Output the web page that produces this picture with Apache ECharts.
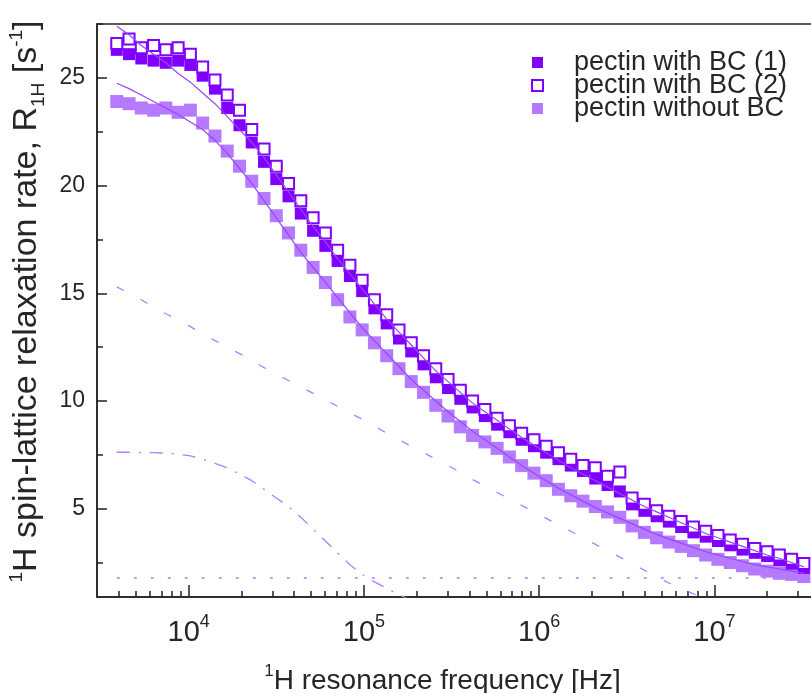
<!DOCTYPE html>
<html><head><meta charset="utf-8">
<script src="https://cdn.jsdelivr.net/npm/echarts@6/dist/echarts.min.js"></script>
<style>html,body{margin:0;padding:0;background:#fff}#c{width:811px;height:693px}</style>
</head><body><div id="c"></div>
<script>
// Frequencies [Hz]
const freq = [3.89e3, 4.57e3, 5.37e3, 6.31e3, 7.41e3, 8.71e3, 1.023e4, 1.202e4, 1.413e4, 1.660e4,
  1.950e4, 2.291e4, 2.692e4, 3.162e4, 3.715e4, 4.365e4, 5.129e4, 6.026e4, 7.079e4, 8.318e4,
  9.772e4, 1.148e5, 1.349e5, 1.585e5, 1.862e5, 2.188e5, 2.570e5, 3.020e5, 3.548e5, 4.169e5,
  4.898e5, 5.754e5, 6.761e5, 7.943e5, 9.333e5, 1.096e6, 1.288e6, 1.514e6, 1.778e6, 2.089e6,
  2.455e6, 2.884e6, 3.388e6, 3.981e6, 4.677e6, 5.495e6, 6.457e6, 7.586e6, 8.913e6, 1.047e7,
  1.230e7, 1.445e7, 1.698e7, 1.995e7, 2.344e7, 2.754e7, 3.236e7];

const withBC1 = [26.3, 26.1, 25.9, 25.8, 25.7, 25.8, 25.6, 25.1, 24.5, 23.6,
  22.8, 22.0, 21.1, 20.3, 19.5, 18.7, 17.9, 17.2, 16.5, 15.8,
  15.1, 14.3, 13.6, 12.9, 12.3, 11.7, 11.1, 10.6, 10.1, 9.7,
  9.3, 8.9, 8.55, 8.2, 7.9, 7.6, 7.3, 7.0, 6.75, 6.4,
  6.1, 5.8, 5.2, 4.9, 4.65, 4.4, 4.15, 3.9, 3.7, 3.5,
  3.3, 3.1, 2.95, 2.8, 2.6, 2.45, 2.25];

const withBC2 = [26.6, 26.8, 26.4, 26.5, 26.3, 26.4, 26.1, 25.5, 24.9, 24.2,
  23.5, 22.6, 21.7, 20.9, 20.1, 19.3, 18.5, 17.8, 17.0, 16.3,
  15.6, 14.7, 14.0, 13.3, 12.7, 12.1, 11.5, 11.0, 10.5, 10.0,
  9.6, 9.2, 8.85, 8.5, 8.2, 7.9, 7.6, 7.3, 7.0, 6.9,
  6.5, 6.7, 5.5, 5.2, 4.9, 4.65, 4.4, 4.15, 3.95, 3.75,
  3.55, 3.35, 3.15, 3.0, 2.85, 2.65, 2.45];

const withoutBC = [23.9, 23.8, 23.6, 23.5, 23.6, 23.4, 23.5, 22.9, 22.3, 21.6,
  20.9, 20.2, 19.4, 18.6, 17.8, 17.0, 16.2, 15.5, 14.7, 13.9,
  13.3, 12.7, 12.1, 11.5, 10.9, 10.4, 9.8, 9.3, 8.8, 8.4,
  8.1, 7.8, 7.4, 7.0, 6.65, 6.3, 5.9, 5.6, 5.35, 5.1,
  4.85, 4.6, 4.2, 3.9, 3.65, 3.45, 3.25, 3.05, 2.85, 2.65,
  2.5, 2.35, 2.2, 2.1, 2.0, 1.95, 1.85];

// Fit curves (same frequency grid, from the start)
const fitBC = [27.4, 27.0, 26.5, 26.1, 25.7, 25.2, 24.8, 24.3, 23.8, 23.2,
  22.6, 22.0, 21.3, 20.5, 19.7, 18.9, 18.1, 17.4, 16.6, 15.9,
  15.2, 14.5, 13.8, 13.2, 12.6, 12.0, 11.4, 10.9, 10.4, 9.9,
  9.5, 9.1, 8.7, 8.3, 7.95, 7.6, 7.25, 6.9, 6.6, 6.3,
  6.0, 5.7, 5.4, 5.1, 4.85, 4.6, 4.35, 4.1, 3.85, 3.65,
  3.45, 3.25, 3.05, 2.85, 2.7, 2.5, 2.3];

const fitNoBC = [24.75, 24.5, 24.2, 23.9, 23.6, 23.3, 22.95, 22.6, 22.1, 21.5,
  20.8, 20.1, 19.3, 18.5, 17.7, 16.9, 16.2, 15.5, 14.8, 14.1,
  13.4, 12.8, 12.2, 11.6, 11.0, 10.5, 10.0, 9.5, 9.05, 8.6,
  8.2, 7.8, 7.4, 7.0, 6.65, 6.3, 5.95, 5.65, 5.35, 5.05,
  4.8, 4.55, 4.3, 4.05, 3.8, 3.6, 3.4, 3.2, 3.0, 2.85,
  2.7, 2.55, 2.4, 2.3, 2.2, 2.1, 2.0];

const fitDashed = [15.3, 15.0, 14.7, 14.35, 14.05, 13.75, 13.45, 13.1, 12.8, 12.5,
  12.2, 11.9, 11.55, 11.25, 10.95, 10.65, 10.35, 10.05, 9.75, 9.45,
  9.15, 8.85, 8.5, 8.2, 7.9, 7.6, 7.3, 7.0, 6.7, 6.35,
  6.05, 5.75, 5.45, 5.15, 4.85, 4.55, 4.25, 3.95, 3.65, 3.35,
  3.05, 2.75, 2.45, 2.15, 1.85, 1.55, 1.3, 1.05, 0.8];

const fitDashDot = [7.62, 7.62, 7.6, 7.6, 7.58, 7.52, 7.45, 7.3, 7.1, 6.9,
  6.6, 6.3, 5.9, 5.5, 5.1, 4.6, 4.05, 3.5, 2.95, 2.4,
  1.95, 1.6, 1.3, 1.0, 0.75];

const fitConstFreq = [3.89e3, 3.236e7];
const fitConst = [1.78, 1.78];

// Axis ticks
const xMajor = [1e4, 1e5, 1e6, 1e7];
const xMinor = [4e3, 5e3, 6e3, 7e3, 8e3, 9e3,
  2e4, 3e4, 4e4, 5e4, 6e4, 7e4, 8e4, 9e4,
  2e5, 3e5, 4e5, 5e5, 6e5, 7e5, 8e5, 9e5,
  2e6, 3e6, 4e6, 5e6, 6e6, 7e6, 8e6, 9e6,
  2e7, 3e7];
const yMajor = [5, 10, 15, 20, 25];
const yMinor = [2.5, 7.5, 12.5, 17.5, 22.5, 27.5];

const names = ['pectin with BC (1)', 'pectin with BC (2)', 'pectin without BC'];

const FONT = '"Liberation Sans", Arial, sans-serif';
const TXT = '#262626';
const AX = '#222';

function pairs(xs, ys) { return ys.map((v, i) => [xs[i], v]); }

const chart = echarts.init(document.getElementById('c'), null, {renderer: 'canvas'});
const fitLineColor = '#9646ff';
const fitLight = '#b27dff';

chart.setOption({
  animation: false,
  backgroundColor: '#fff',
  textStyle: {fontFamily: FONT},
  grid: {left: 97, top: 24, width: 723, height: 573, show: true, borderColor: AX, borderWidth: 1.5,
         backgroundColor: 'transparent', containLabel: false, outerBoundsMode: 'none'},
  legend: {
    data: names, orient: 'vertical', left: 526, top: 44,
    itemWidth: 11, itemHeight: 11, itemGap: -4,
    textStyle: {fontSize: 27, fontFamily: FONT, color: TXT, padding: [0, 0, 0, 26], lineHeight: 22}
  },
  xAxis: [{
    type: 'log', logBase: 10, min: 3000, max: 4e7, position: 'bottom',
    axisLine: {lineStyle: {color: AX, width: 1.5}},
    splitLine: {show: false},
    axisTick: {inside: true, length: 12, customValues: xMajor, lineStyle: {color: AX, width: 1.5}},
    axisLabel: {
      customValues: xMajor, margin: 16, color: TXT,
      formatter: v => '{b|10}{e|' + Math.round(Math.log10(v)) + '}',
      rich: {b: {fontSize: 29, fontFamily: FONT, color: TXT, lineHeight: 34, verticalAlign: 'bottom'},
             e: {fontSize: 18, fontFamily: FONT, color: TXT, lineHeight: 34, verticalAlign: 'top'}}
    },
    name: '{s|1}{n|H resonance frequency [Hz]}',
    nameLocation: 'middle', nameGap: 66,
    nameTextStyle: {padding: [0, 32, 0, 0], rich: {
      n: {fontSize: 28, fontFamily: FONT, color: TXT, lineHeight: 32, verticalAlign: 'bottom'},
      s: {fontSize: 17, fontFamily: FONT, color: TXT, lineHeight: 32, verticalAlign: 'top'}}}
  }, {
    type: 'log', logBase: 10, min: 3000, max: 4e7, position: 'bottom',
    axisLine: {show: false}, splitLine: {show: false}, axisLabel: {show: false},
    axisTick: {inside: true, length: 6, customValues: xMinor, lineStyle: {color: AX, width: 1.5}}
  }],
  yAxis: [{
    type: 'value', min: 0.9, max: 27.5, position: 'left',
    axisLine: {show: true, lineStyle: {color: AX, width: 1.5}},
    splitLine: {show: false},
    axisTick: {show: true, inside: true, length: 10, customValues: yMajor, lineStyle: {color: AX, width: 1.5}},
    axisLabel: {customValues: yMajor, margin: 12, fontSize: 23, fontFamily: FONT, color: TXT},
    name: '{s|1}{n|H spin-lattice relaxation rate, R}{b|1H}{n| [s}{s|-1}{n|]}',
    nameLocation: 'middle', nameGap: 52,
    nameTextStyle: {padding: [0, 0, 0, 18], rich: {
      n: {fontSize: 34, fontFamily: FONT, color: TXT, lineHeight: 36, verticalAlign: 'bottom'},
      s: {fontSize: 19, fontFamily: FONT, color: TXT, lineHeight: 36, verticalAlign: 'top'},
      b: {fontSize: 19, fontFamily: FONT, color: TXT, lineHeight: 36, verticalAlign: 'bottom', padding: [0, 0, -5, 0]}}}
  }, {
    type: 'value', min: 0.9, max: 27.5, position: 'left',
    axisLine: {show: false}, splitLine: {show: false}, axisLabel: {show: false},
    axisTick: {show: true, inside: true, length: 6, customValues: yMinor, lineStyle: {color: AX, width: 1.5}}
  }],
  series: [
    {name: names[2], type: 'scatter', symbol: 'rect', symbolSize: 13, xAxisIndex: 0, yAxisIndex: 0,
     itemStyle: {color: '#b57aff', opacity: 1}, data: pairs(freq, withoutBC), z: 2},
    {name: names[0], type: 'scatter', symbol: 'rect', symbolSize: 12, xAxisIndex: 0, yAxisIndex: 0,
     itemStyle: {color: '#7f00ff', opacity: 1}, data: pairs(freq, withBC1), z: 3},
    {name: names[1], type: 'scatter', symbol: 'rect', symbolSize: 11, xAxisIndex: 0, yAxisIndex: 0,
     itemStyle: {color: '#ffffff', borderColor: '#8000ff', borderWidth: 2, opacity: 1}, data: pairs(freq, withBC2), z: 4},
    {type: 'line', showSymbol: false, symbol: 'none', xAxisIndex: 0, yAxisIndex: 0, z: 5,
     lineStyle: {color: fitLineColor, width: 1.2}, data: pairs(freq, fitBC)},
    {type: 'line', showSymbol: false, symbol: 'none', xAxisIndex: 0, yAxisIndex: 0, z: 5,
     lineStyle: {color: fitLineColor, width: 1.2}, data: pairs(freq, fitNoBC)},
    {type: 'line', showSymbol: false, symbol: 'none', xAxisIndex: 0, yAxisIndex: 0, z: 5,
     lineStyle: {color: fitLight, width: 1.3, type: [8, 19]}, data: pairs(freq, fitDashed)},
    {type: 'line', showSymbol: false, symbol: 'none', xAxisIndex: 0, yAxisIndex: 0, z: 5,
     lineStyle: {color: fitLight, width: 1.3, type: [13, 9, 2, 9]}, data: pairs(freq, fitDashDot)},
    {type: 'line', showSymbol: false, symbol: 'none', xAxisIndex: 0, yAxisIndex: 0, z: 5,
     lineStyle: {color: fitLight, width: 1.5, type: [3, 14]}, data: pairs(fitConstFreq, fitConst)}
  ]
});
</script></body></html>
